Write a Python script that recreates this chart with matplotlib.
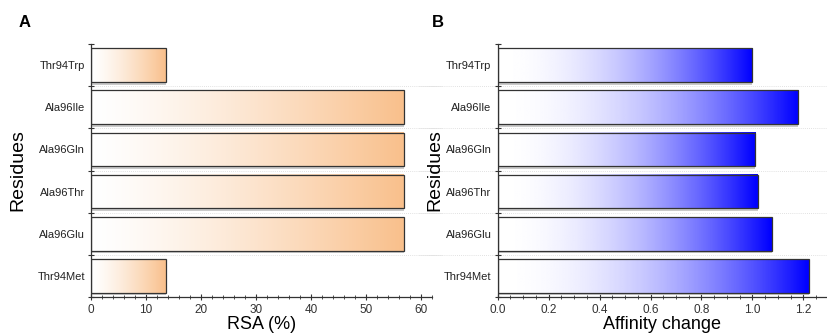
import numpy as np
import matplotlib
matplotlib.use("Agg")
from matplotlib import pyplot as plt
from matplotlib.colors import LinearSegmentedColormap
from matplotlib.patches import Rectangle
from matplotlib.ticker import MultipleLocator, FixedLocator, NullFormatter
from matplotlib.transforms import blended_transform_factory

plt.rcParams['font.family'] = ['Liberation Sans', 'DejaVu Sans']

# residues from top to bottom
residues = ['Thr94Trp', 'Ala96Ile', 'Ala96Gln', 'Ala96Thr', 'Ala96Glu', 'Thr94Met']
rsa = [13.6, 56.8, 56.8, 56.8, 56.8, 13.6]
affinity = [1.00, 1.18, 1.01, 1.02, 1.075, 1.22]


def gradient_bars(ax, values, color, power):
    cmap = LinearSegmentedColormap.from_list('g', ['white', color])
    t = np.linspace(0, 1, 256) ** power
    grad = t.reshape(1, -1)
    n = len(values)
    h = 0.8
    for i, v in enumerate(values):
        y = n - 1 - i
        ax.imshow(grad, extent=[0, v, y - h / 2, y + h / 2], aspect='auto',
                  cmap=cmap, vmin=0, vmax=1, interpolation='bilinear', zorder=2)
        ax.plot([0, v], [y - h / 2 - 0.04, y - h / 2 - 0.04], color='#c0c0c0',
                lw=1.2, zorder=2, solid_capstyle='butt')
        ax.add_patch(Rectangle((0, y - h / 2), v, h, fill=False,
                               edgecolor='#333333', lw=0.9, zorder=3))


def style_axes(ax, xmax, major, minor, xlabel, fmt, ylab_x, grid_span):
    n = len(residues)
    ax.set_xlim(0, xmax)
    ax.set_ylim(-0.5, n - 0.5)
    ax.xaxis.set_major_locator(MultipleLocator(major))
    ax.xaxis.set_minor_locator(MultipleLocator(minor))
    ax.xaxis.set_major_formatter(plt.FuncFormatter(lambda v, p: fmt.format(v)))
    ax.yaxis.set_major_locator(FixedLocator(np.arange(n)))
    ax.set_yticklabels(residues[::-1])
    ax.yaxis.set_minor_locator(FixedLocator(np.arange(-0.5, n, 1.0)))
    ax.yaxis.set_minor_formatter(NullFormatter())
    ax.tick_params(axis='y', which='major', length=0, labelsize=8, pad=4.5, colors='#222222')
    ax.tick_params(axis='y', which='minor', length=4, width=0.8, direction='inout', color='#333333')
    ax.tick_params(axis='x', which='major', length=4, width=0.8, direction='inout',
                   labelsize=8.5, labelcolor='#333333', color='#333333', pad=3)
    ax.tick_params(axis='x', which='minor', length=3, width=0.6, direction='inout', color='#333333')
    for s in ['top', 'right']:
        ax.spines[s].set_visible(False)
    for s in ['left', 'bottom']:
        ax.spines[s].set_color('#333333')
        ax.spines[s].set_linewidth(0.9)
    tr = blended_transform_factory(ax.transAxes, ax.transData)
    for yb in np.arange(0.5, n - 1, 1.0):
        ax.plot(grid_span, [yb, yb], transform=tr, color='#d8d8d8', lw=0.6,
                ls=(0, (1, 1.5)), zorder=1, clip_on=False)
    ax.set_xlabel(xlabel, fontsize=13)
    ax.xaxis.set_label_coords(0.5, -0.075)
    ax.set_ylabel('Residues', fontsize=14)
    ax.yaxis.set_label_coords(ylab_x, 0.5)


fig = plt.figure(figsize=(8.28, 3.36), dpi=100)
axA = fig.add_axes([0.110, 0.116, 0.412, 0.753])
axB = fig.add_axes([0.601, 0.116, 0.397, 0.753])

gradient_bars(axA, rsa, '#f9c08c', 1.3)
style_axes(axA, 62, 10, 2, 'RSA (%)', '{:.0f}', -0.19, [0, 1.03])

gradient_bars(axB, affinity, '#0000ff', 2.0)
style_axes(axB, 1.29, 0.2, 0.05, 'Affinity change', '{:.1f}', -0.165, [-0.24, 1.0])

fig.text(0.022, 0.92, 'A', fontsize=12, fontweight='bold')
fig.text(0.522, 0.92, 'B', fontsize=12, fontweight='bold')

fig.savefig('out.png', dpi=100)
